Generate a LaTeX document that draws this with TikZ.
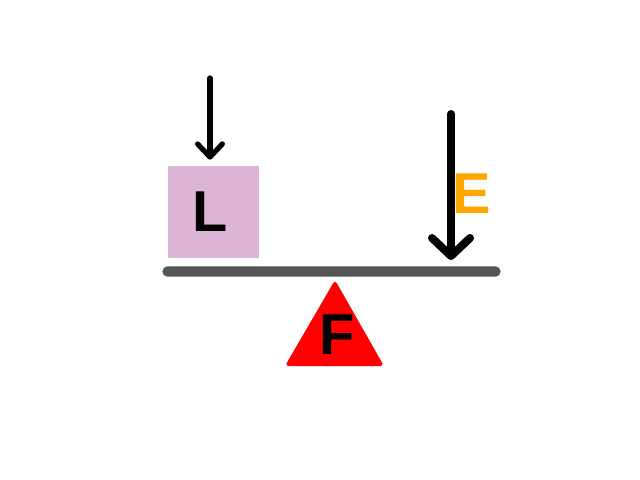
\documentclass[tikz,border=0pt]{standalone}
\usepackage{fontspec}
\setmainfont{Liberation Sans}
\usepackage{xcolor}
\definecolor{loadpink}{HTML}{DCB5D6}
\definecolor{effortorange}{HTML}{FFA500}
\definecolor{beamgrey}{HTML}{555555}
\usepackage{tikz}
\usetikzlibrary{arrows.meta, positioning, calc}

\begin{document}
\begin{tikzpicture}[x=0.025cm, y=-0.025cm,
        letter/.style={font=\fontsize{41}{48}\selectfont\bfseries, inner sep=0pt}]
        % Page frame
        \useasboundingbox (0,0) rectangle (640,480);

        % Beam
        \node[fill=beamgrey, rounded corners=0.125cm, minimum width=8.45cm, minimum height=0.26cm, inner sep=0pt] (beam) at (331.5,271.5) {};

        % Fulcrum
        \fill[red, rounded corners=2.5pt] (335,280) -- (384,366) -- (285,366) -- cycle;
        \node[letter] (fulcrum) at (337,334.5) {F};

        % Load
        \node[fill=loadpink, minimum width=2.25cm, minimum height=2.3cm, inner sep=0pt] (load) at (213.5,212) {};
        \node[letter] (lname) at (210,211.5) {L};

        % Load arrow
        \coordinate (ltop) at (210,78);
        \draw[line width=0.13cm, line cap=round, -{Straight Barb[length=0.33cm, width=0.62cm, round]}, shorten >=0.15cm] (ltop) -- (ltop |- load.north);

        % Effort arrow
        \coordinate (etop) at (451,114);
        \draw[line width=0.2cm, line cap=round, -{Straight Barb[length=0.45cm, width=0.95cm, round]}, shorten >=0.15cm] (etop) -- (etop |- beam.north);
        \node[letter, text=effortorange] (effort) at (471.5,193.5) {E};
\end{tikzpicture}
\end{document}
